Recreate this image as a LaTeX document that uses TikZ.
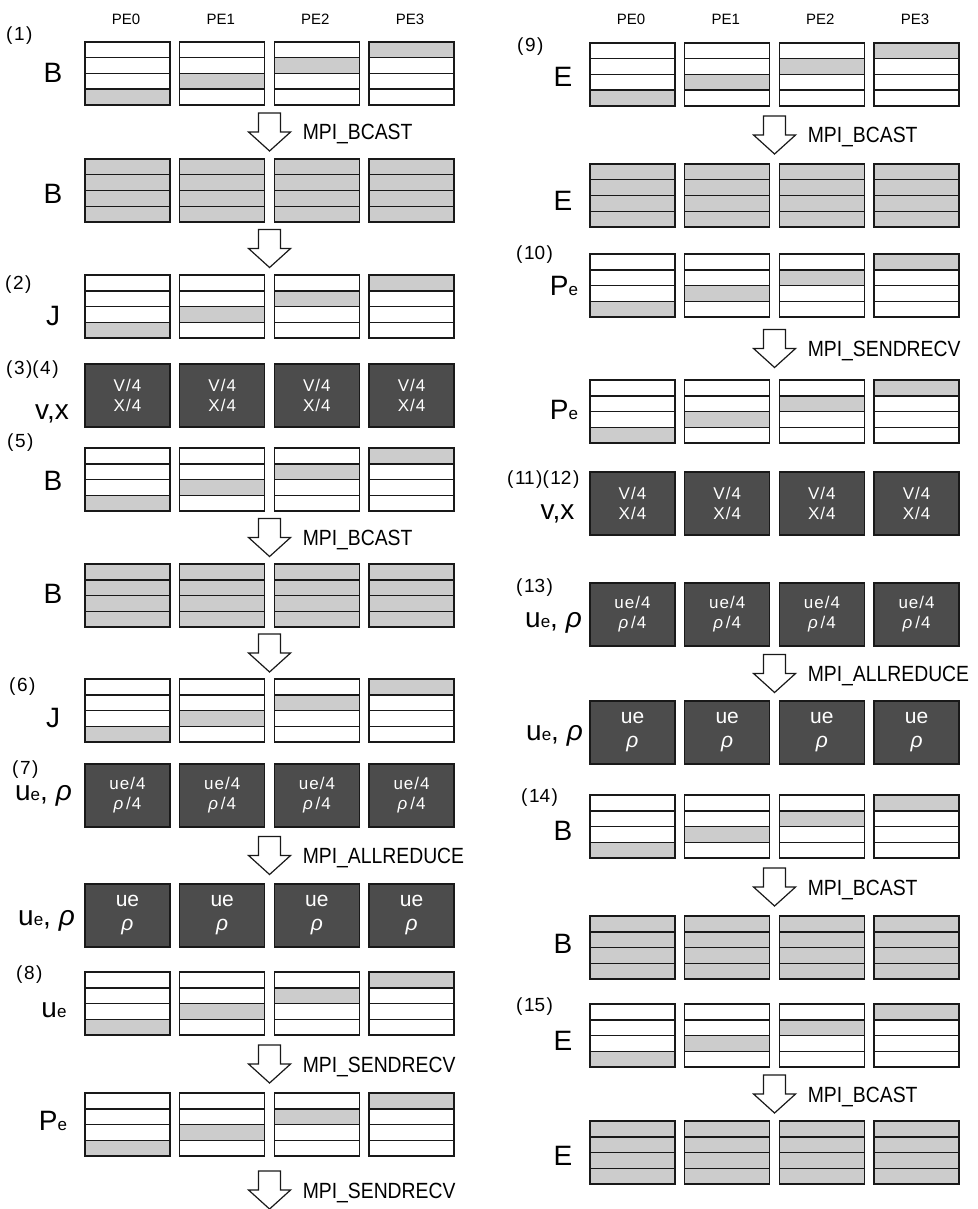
\documentclass[tikz,border=0pt]{standalone}
\usepackage{fontspec}
\setmainfont{Liberation Sans}
\newfontfamily\mpifont[FakeStretch=0.88]{Liberation Sans}
\newfontfamily\boxfont[LetterSpace=6]{Liberation Sans}
\usetikzlibrary{calc}
\definecolor{lg}{gray}{0.8}
\definecolor{dg}{gray}{0.3}
\definecolor{ln}{gray}{0.1}
\newcommand\uerho{u{\fontsize{17}{17}\selectfont e}, {\itshape ρ}}
\newcommand\uesub{u{\fontsize{17}{17}\selectfont e}}
\newcommand\pesub{P{\fontsize{17}{17}\selectfont e}}
\newcommand\stepno[1]{(\kern1.5pt#1\kern1.5pt)}
\tikzset{
  box/.style={draw=ln, line width=1.5pt, minimum width=85pt, minimum height=63pt, inner sep=0pt, outer sep=0pt},
  dbox/.style={box, fill=dg, text=white, align=center, font=\boxfont\fontsize{17}{20}\selectfont},
  dboxbig/.style={box, fill=dg, text=white, align=center, font=\fontsize{21}{24}\selectfont},
  big/.style={font=\fontsize{28}{30}\selectfont, inner sep=0pt, anchor=base},
  num/.style={font=\fontsize{19}{22}\selectfont, inner sep=0pt, anchor=west},
  pelab/.style={font=\fontsize{15}{17}\selectfont, inner sep=0pt, anchor=base},
  mpi/.style={font=\mpifont\fontsize{22}{24}\selectfont, inner sep=0pt, anchor=base west},
  blockarrow/.pic={\draw[ln, fill=white, line width=1.2pt, line join=miter] (-11,-19) -- (11,-19) -- (11,0) -- (21,0) -- (0,19) -- (-21,0) -- (-11,0) -- cycle;}
}
\newcommand\stripbox[4]{%
  \foreach \c in {0,1,2,3}{
    \pgfmathsetmacro\xl{#2+94.7*\c}
    \ifnum#4=1
      \fill[lg] (\xl,#3) rectangle ++(85,63);
    \else
      \pgfmathsetmacro\yg{#3+15.75*(3-\c)}
      \fill[lg] (\xl,\yg) rectangle ++(85,15.75);
    \fi
    \foreach \k in {1,2,3}{\draw[ln, line width=1.5pt] (\xl,{#3+15.75*\k}) -- ++(85,0);}
    \node[box] (#1\c) at ({\xl+42.5},{#3+31.5}) {};
  }
}
\newcommand\darkbox[4]{%
  \foreach \c in {0,1,2,3}{
    \node[dbox] (#1\c) at ({#2+42.5+94.7*\c},{#3+31.5}) {#4};
  }
}
\newcommand\darkboxbig[3]{%
  \foreach \c in {0,1,2,3}{
    \node[dboxbig] (#1\c) at ({#2+42.5+94.7*\c},{#3+31.5}) {ue\\[0pt]{\itshape ρ}};
  }
}
\newcommand\flowarrow[4]{%
  \coordinate (#1) at ($(#2.south east)!0.5!(#3.north west)$);
  \pic at (#1) {blockarrow};
  \node[mpi] (#1t) at ($(#1)+(33,8)$) {#4};
}
\newcommand\plainarrow[3]{%
  \coordinate (#1) at ($(#2.south east)!0.5!(#3.north west)$);
  \pic at (#1) {blockarrow};
}
\begin{document}
\begin{tikzpicture}[x=1pt,y=-1pt]
\useasboundingbox (0,0) rectangle (977,1209);
\fill[white] (0,0) rectangle (977,1209);
% PE headers
\foreach \c in {0,1,2,3}{
  \node[pelab] (pl\c) at ({126+94.7*\c},25) {PE\c};
  \node[pelab] (pr\c) at ({631+94.7*\c},25) {PE\c};
}
% left column
\stripbox{Ba}{85}{42}{0}
\stripbox{Bb}{85}{159}{1}
\stripbox{Ja}{85}{275}{0}
\darkbox{Va}{85}{364}{V/4\\X/4}
\stripbox{Bc}{85}{448}{0}
\stripbox{Bd}{85}{564}{1}
\stripbox{Jb}{85}{679}{0}
\darkbox{Ua}{85}{764}{ue/4\\{\itshape ρ}\,/4}
\darkboxbig{Ub}{85}{884}
\stripbox{Ea}{85}{972}{0}
\stripbox{Pa}{85}{1093}{0}
% right column
\stripbox{Ra}{590}{43}{0}
\stripbox{Rb}{590}{164}{1}
\stripbox{Rc}{590}{254}{0}
\stripbox{Rd}{590}{380}{0}
\darkbox{Re}{590}{472}{V/4\\X/4}
\darkbox{Rf}{590}{583}{ue/4\\{\itshape ρ}\,/4}
\darkboxbig{Rg}{590}{701}
\stripbox{Rh}{590}{795}{0}
\stripbox{Ri}{590}{916}{1}
\stripbox{Rj}{590}{1004}{0}
\stripbox{Rk}{590}{1121}{1}
% arrows left
\flowarrow{aa}{Ba1}{Bb2}{MPI\_BCAST}
\plainarrow{ab}{Bb1}{Ja2}
\flowarrow{ac}{Bc1}{Bd2}{MPI\_BCAST}
\plainarrow{ad}{Bd1}{Jb2}
\flowarrow{ae}{Ua1}{Ub2}{MPI\_ALLREDUCE}
\flowarrow{af}{Ea1}{Pa2}{MPI\_SENDRECV}
\coordinate (ag) at ($(Pa1.south east)!0.5!(Pa2.south west)+(0,34)$);
\pic at (ag) {blockarrow};
\node[mpi] (agt) at ($(ag)+(33,8)$) {MPI\_SENDRECV};
% arrows right
\flowarrow{ba}{Ra1}{Rb2}{MPI\_BCAST}
\flowarrow{bb}{Rc1}{Rd2}{MPI\_SENDRECV}
\flowarrow{bc}{Rf1}{Rg2}{MPI\_ALLREDUCE}
\flowarrow{bd}{Rh1}{Ri2}{MPI\_BCAST}
\flowarrow{be}{Rj1}{Rk2}{MPI\_BCAST}
% big labels left
\node[big] (lB1) at (53,83) {B};
\node[big] (lB2) at (53,204) {B};
\node[big] (lJ1) at (53,325) {J};
\node[big] (lV1) at (52,419) {v,x};
\node[big] (lB3) at (53,490) {B};
\node[big] (lB4) at (53,603) {B};
\node[big] (lJ2) at (53,727) {J};
\node[big, anchor=base east] (lU1) at (72,800) {\uerho};
\node[big, anchor=base east] (lU2) at (75,925) {\uerho};
\node[big] (lU3) at (54,1017) {\uesub};
\node[big] (lP1) at (53,1130) {\pesub};
% big labels right
\node[big] (rE1) at (563,87) {E};
\node[big] (rE2) at (563,210) {E};
\node[big] (rP1) at (564,295) {\pesub};
\node[big] (rP2) at (564,419) {\pesub};
\node[big] (rV1) at (557.5,519) {v,x};
\node[big, anchor=base east] (rU1) at (582,627) {\uerho};
\node[big, anchor=base east] (rU2) at (583,740) {\uerho};
\node[big] (rB1) at (563,840) {B};
\node[big] (rB2) at (563,953) {B};
\node[big] (rE3) at (563,1050) {E};
\node[big] (rE4) at (563,1165) {E};
% step numbers
\node[num] (n1) at (6,36) {\stepno{1}};
\node[num] (n2) at (5,285) {\stepno{2}};
\node[num] (n3) at (6,370) {\stepno{3}\stepno{4}};
\node[num] (n5) at (7,443) {\stepno{5}};
\node[num] (n6) at (9,687) {\stepno{6}};
\node[num] (n7) at (12,770) {\stepno{7}};
\node[num] (n8) at (16,975) {\stepno{8}};
\node[num] (n9) at (517,47) {\stepno{9}};
\node[num] (n10) at (516,255) {\stepno{10}};
\node[num] (n11) at (507,480) {\stepno{11}\stepno{12}};
\node[num] (n13) at (516,588) {\stepno{13}};
\node[num] (n14) at (521,798) {\stepno{14}};
\node[num] (n15) at (516,1007) {\stepno{15}};
\end{tikzpicture}
\end{document}
